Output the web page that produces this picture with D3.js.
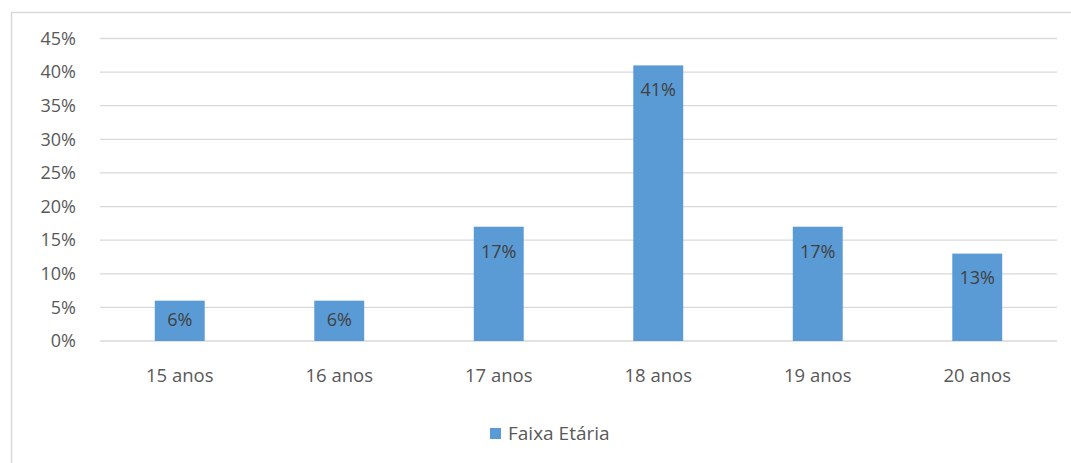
<!DOCTYPE html>
<html>
<head>
<meta charset="utf-8">
<script src="https://cdn.jsdelivr.net/npm/d3@7"></script>
<style>
  body { margin: 0; background: #fff; }
  text { font-family: "Open Sans", sans-serif; }
</style>
</head>
<body>
<svg width="1071" height="463"></svg>
<script>
var categories = ["15 anos", "16 anos", "17 anos", "18 anos", "19 anos", "20 anos"];
var values = [0.06, 0.06, 0.17, 0.41, 0.17, 0.13];
var yTicks = [0, 0.05, 0.10, 0.15, 0.20, 0.25, 0.30, 0.35, 0.40, 0.45];
var seriesName = "Faixa Etária";

var svg = d3.select("svg"),
    width = +svg.attr("width"),
    height = +svg.attr("height");

var margin = {left: 100, right: 14, top: 38.5, bottom: 122};

// chart frame
svg.append("rect")
    .attr("x", 11.5).attr("y", 12.5)
    .attr("width", width + 10).attr("height", height + 10)
    .style("fill", "none")
    .style("stroke", "#d9d9d9")
    .style("stroke-width", 1.5);

var x = d3.scaleBand()
    .domain(categories)
    .range([margin.left, width - margin.right])
    .paddingInner(0.687)
    .paddingOuter(0.3435);

var y = d3.scaleLinear()
    .domain([0, 0.45])
    .range([height - margin.bottom, margin.top]);

var fmt = d3.format(".0%");

// gridlines
svg.append("g")
    .selectAll("line")
    .data(yTicks)
    .enter().append("line")
    .attr("x1", margin.left)
    .attr("x2", width - margin.right)
    .attr("y1", function(d) { return y(d); })
    .attr("y2", function(d) { return y(d); })
    .style("stroke", "#d9d9d9")
    .style("stroke-width", 1.3);

// y axis labels
var yAxis = d3.axisLeft(y).tickValues(yTicks).tickFormat(fmt).tickSize(0).tickPadding(24);
var gy = svg.append("g")
    .attr("transform", "translate(" + margin.left + ",0)")
    .call(yAxis);
gy.select(".domain").remove();
gy.selectAll("text")
    .style("font-family", "'Open Sans', sans-serif")
    .style("font-size", "18px")
    .style("fill", "#595959");

// bars
svg.append("g")
    .selectAll("rect")
    .data(values)
    .enter().append("rect")
    .attr("x", function(d, i) { return x(categories[i]); })
    .attr("y", function(d) { return y(d); })
    .attr("width", x.bandwidth())
    .attr("height", function(d) { return y(0) - y(d); })
    .style("fill", "#5b9bd5");

// value labels (inside end)
svg.append("g")
    .selectAll("text")
    .data(values)
    .enter().append("text")
    .attr("x", function(d, i) { return x(categories[i]) + x.bandwidth() / 2; })
    .attr("y", function(d) { return y(d) + Math.min(24.5, (y(0) - y(d)) / 2 - 1); })
    .attr("dy", "0.35em")
    .attr("text-anchor", "middle")
    .style("font-size", "18px")
    .style("fill", "#404040")
    .text(function(d) { return fmt(d); });

// x axis labels
var xAxis = d3.axisBottom(x).tickSize(0).tickPadding(28);
var gx = svg.append("g")
    .attr("transform", "translate(0," + y(0) + ")")
    .call(xAxis);
gx.select(".domain").remove();
gx.selectAll("text")
    .style("font-family", "'Open Sans', sans-serif")
    .style("font-size", "18.5px")
    .style("fill", "#595959");

// legend
var legend = svg.append("g").attr("transform", "translate(490,428)");
legend.append("rect")
    .attr("width", 11).attr("height", 11)
    .style("fill", "#5b9bd5");
legend.append("text")
    .attr("x", 18).attr("y", 5.5)
    .attr("dy", "0.35em")
    .style("font-size", "19px")
    .style("fill", "#595959")
    .text(seriesName);
</script>
</body>
</html>
